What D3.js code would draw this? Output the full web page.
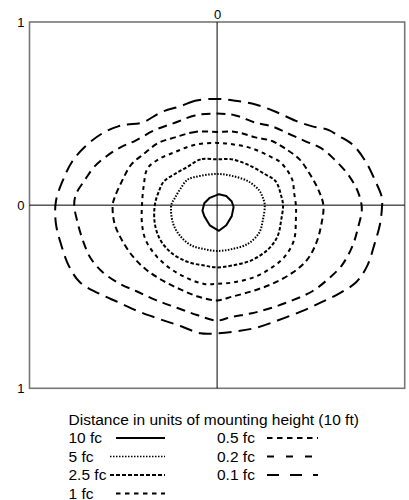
<!DOCTYPE html>
<html><head><meta charset="utf-8">
<script src="https://cdn.jsdelivr.net/npm/d3@7"></script>
<style>body{margin:0;background:#fff}</style>
</head><body><svg id="c" width="409" height="500"></svg>
<script>
const levels = ["10 fc","5 fc","2.5 fc","1 fc","0.5 fc","0.2 fc","0.1 fc"];
const yTicks = [1, 0, -1];
const xTicks = [0];
const axisTitle = "Distance in units of mounting height (10 ft)";

const c10 = [[0.01,0.06],[-0.04,0.04],[-0.07,0.01],[-0.08,-0.03],[-0.07,-0.06],[-0.04,-0.11],[0.01,-0.14],[0.05,-0.11],[0.08,-0.06],[0.09,-0.01],[0.08,0.02],[0.05,0.05]];
const c5 = [[0,0.17],[-0.09,0.16],[-0.16,0.14],[-0.20,0.09],[-0.23,0.04],[-0.25,0.00],[-0.24,-0.10],[-0.20,-0.17],[-0.14,-0.22],[-0.07,-0.24],[0,-0.25],[0.08,-0.24],[0.17,-0.21],[0.23,-0.15],[0.25,-0.08],[0.26,0.00],[0.25,0.04],[0.23,0.08],[0.17,0.13],[0.08,0.16]];
const c25 = [[0,0.25],[-0.09,0.25],[-0.16,0.21],[-0.23,0.17],[-0.29,0.13],[-0.32,0.07],[-0.34,0.00],[-0.34,-0.10],[-0.31,-0.19],[-0.25,-0.26],[-0.16,-0.31],[-0.07,-0.33],[0,-0.34],[0.08,-0.33],[0.19,-0.30],[0.28,-0.24],[0.33,-0.17],[0.35,-0.08],[0.36,0.00],[0.35,0.05],[0.32,0.13],[0.26,0.17],[0.17,0.22],[0.08,0.25]];
const c1 = [[0,0.34],[-0.12,0.33],[-0.23,0.29],[-0.32,0.25],[-0.38,0.20],[-0.40,0.11],[-0.41,0.00],[-0.41,-0.10],[-0.39,-0.19],[-0.33,-0.28],[-0.25,-0.35],[-0.16,-0.40],[-0.07,-0.43],[0,-0.43],[0.10,-0.42],[0.21,-0.39],[0.30,-0.34],[0.37,-0.28],[0.42,-0.19],[0.43,-0.08],[0.43,0.00],[0.42,0.07],[0.41,0.14],[0.35,0.23],[0.28,0.27],[0.19,0.31],[0.10,0.33]];
const c05 = [[0,0.40],[-0.12,0.40],[-0.23,0.37],[-0.32,0.34],[-0.40,0.28],[-0.47,0.22],[-0.52,0.13],[-0.56,0.04],[-0.57,0.00],[-0.56,-0.10],[-0.52,-0.19],[-0.46,-0.28],[-0.39,-0.35],[-0.30,-0.41],[-0.20,-0.46],[-0.10,-0.50],[0,-0.52],[0.08,-0.50],[0.19,-0.47],[0.30,-0.43],[0.41,-0.37],[0.49,-0.30],[0.54,-0.21],[0.57,-0.10],[0.58,0.00],[0.55,0.09],[0.50,0.18],[0.45,0.25],[0.37,0.31],[0.30,0.35],[0.21,0.37],[0.10,0.40]];
const c02 = [[0,0.50],[-0.12,0.49],[-0.23,0.45],[-0.34,0.41],[-0.45,0.35],[-0.52,0.32],[-0.60,0.27],[-0.67,0.21],[-0.72,0.14],[-0.77,0.06],[-0.78,0.00],[-0.76,-0.10],[-0.73,-0.20],[-0.69,-0.29],[-0.62,-0.37],[-0.53,-0.43],[-0.44,-0.47],[-0.33,-0.52],[-0.22,-0.56],[-0.11,-0.60],[0,-0.63],[0.08,-0.61],[0.19,-0.59],[0.30,-0.56],[0.41,-0.52],[0.52,-0.47],[0.61,-0.40],[0.68,-0.33],[0.74,-0.22],[0.77,-0.12],[0.79,-0.02],[0.77,0.07],[0.72,0.16],[0.64,0.25],[0.57,0.31],[0.48,0.35],[0.39,0.39],[0.30,0.43],[0.21,0.45],[0.10,0.49]];
const c01 = [[0,0.58],[-0.12,0.57],[-0.20,0.54],[-0.30,0.51],[-0.41,0.45],[-0.49,0.44],[-0.54,0.43],[-0.63,0.39],[-0.72,0.32],[-0.79,0.24],[-0.84,0.14],[-0.88,0.02],[-0.88,-0.10],[-0.85,-0.22],[-0.81,-0.33],[-0.75,-0.42],[-0.65,-0.48],[-0.54,-0.53],[-0.43,-0.58],[-0.32,-0.62],[-0.20,-0.66],[-0.09,-0.70],[0,-0.70],[0.10,-0.69],[0.21,-0.67],[0.33,-0.63],[0.46,-0.58],[0.57,-0.53],[0.67,-0.48],[0.76,-0.42],[0.82,-0.33],[0.86,-0.21],[0.89,-0.10],[0.90,-0.01],[0.90,0.04],[0.86,0.14],[0.81,0.24],[0.74,0.33],[0.66,0.38],[0.61,0.41],[0.52,0.43],[0.43,0.46],[0.32,0.51],[0.21,0.55],[0.10,0.57]];

const contours = [c10, c5, c25, c1, c05, c02, c01];
const dashes = [null, "1.5 1.5", "3.5 2", "4 4", "6 4", "9 6", "13 7"];
const legendDashes = [null, "1.5 1.5", "4 2", "4.5 4.5", "5.5 4.5", "7 12", "12 11"];

const svg = d3.select("#c");
const L = 29.5, R = 404.7, T = 22, B = 388.3;
const x = d3.scaleLinear().domain([-1.024, 1.024]).range([L, R]);
const y = d3.scaleLinear().domain([-1, 1]).range([B, T]);

// frame
svg.append("rect").attr("x", L).attr("y", T).attr("width", R - L).attr("height", B - T)
  .attr("fill", "none").attr("stroke", "#777").attr("stroke-width", 1.6);

// center lines
svg.append("line").attr("x1", x(0)).attr("x2", x(0)).attr("y1", T).attr("y2", B).attr("stroke", "#000").attr("stroke-width", 1);
svg.append("line").attr("x1", L).attr("x2", R).attr("y1", y(0)).attr("y2", y(0)).attr("stroke", "#000").attr("stroke-width", 1);

// axes (labels only)
const yAxis = d3.axisLeft(y).tickValues(yTicks).tickSize(0).tickPadding(5).tickFormat(d => Math.abs(d));
const gy = svg.append("g").attr("transform", `translate(${L},0)`).call(yAxis);
const xAxis = d3.axisTop(x).tickValues(xTicks).tickSize(0).tickPadding(3).tickFormat(d => d);
const gx = svg.append("g").attr("transform", `translate(0,${T})`).call(xAxis);
[gy, gx].forEach(g => {
  g.select(".domain").remove();
  g.selectAll("text").attr("font-family", "Liberation Sans, Arial, sans-serif").attr("font-size", 13).attr("fill", "#000");
});

// contours
const smooth = d3.line().x(d => x(d[0])).y(d => y(d[1])).curve(d3.curveCatmullRomClosed.alpha(0.5));
const poly = d3.line().x(d => x(d[0])).y(d => y(d[1])).curve(d3.curveLinearClosed);
contours.forEach((c, i) => {
  svg.append("path").attr("d", i === 0 ? poly(c) : smooth(c))
    .attr("fill", "none").attr("stroke", "#000").attr("stroke-width", 2)
    .attr("stroke-linejoin", "round")
    .attr("stroke-dasharray", dashes[i]);
});

// legend
const font = "Liberation Sans, Arial, sans-serif";
svg.append("text").attr("x", 68.5).attr("y", 424.5).attr("font-family", font).attr("font-size", 15.5).text(axisTitle);
const rowY = [443, 461.5, 480, 498.5];
levels.forEach((lv, i) => {
  const col = i < 4 ? 0 : 1;
  const row = i < 4 ? i : i - 4;
  const tx = col === 0 ? 68.5 : 217;
  const lx1 = col === 0 ? ((lv === "2.5 fc" || lv === "5 fc") ? 110 : 116) : 267;
  const lx2 = col === 0 ? 165 : 318;
  const yy = rowY[row];
  svg.append("text").attr("x", tx).attr("y", yy).attr("font-family", font).attr("font-size", 15.5).text(lv);
  svg.append("line").attr("x1", lx1).attr("x2", lx2).attr("y1", yy - 5).attr("y2", yy - 5)
    .attr("stroke", "#000").attr("stroke-width", i === 1 ? 1.5 : 2)
    .attr("stroke-dasharray", legendDashes[i]);
});
</script></body></html>
